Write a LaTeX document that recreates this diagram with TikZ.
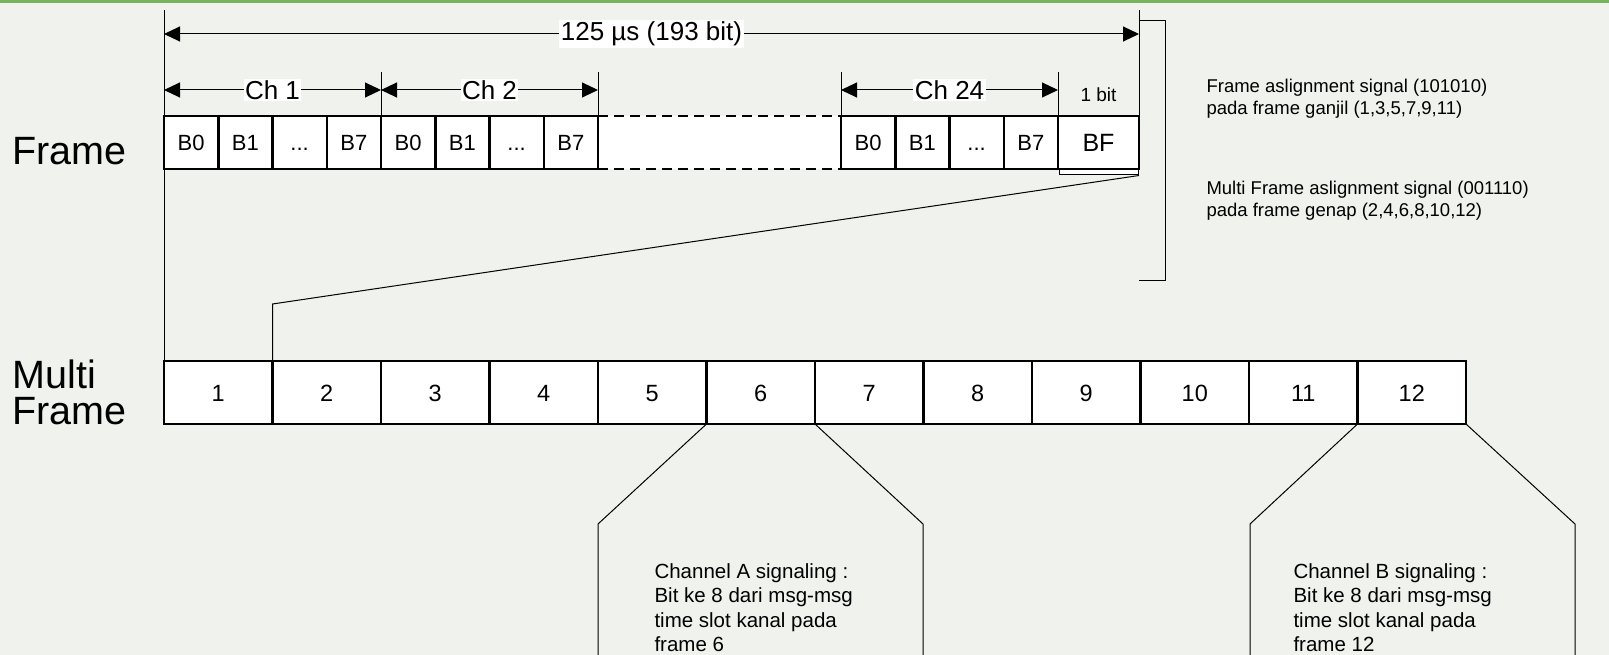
\documentclass[tikz,border=0pt]{standalone}
\usepackage{fontspec}
\setmainfont{Liberation Sans}
\usetikzlibrary{arrows.meta}
\definecolor{bgc}{RGB}{239,242,237}
\definecolor{topgreen}{RGB}{120,180,90}
\newcommand{\tdots}{...}
\begin{document}
\begin{tikzpicture}[x=1pt,y=-1pt,
  cell/.style={draw,line width=2.5pt,fill=white,inner sep=0pt,outer sep=0pt},
  fcell/.style={cell,minimum width=54.25pt,minimum height=53pt,font=\fontsize{22}{26}\selectfont,text height=16pt,text depth=0pt},
  mcell/.style={cell,minimum width=108.5pt,minimum height=63pt,font=\fontsize{23.5}{28}\selectfont,text height=17pt,text depth=0pt},
  thinline/.style={line width=1pt},
  dimarrow/.style={line width=1pt,{Triangle[length=16pt,width=15pt]}-{Triangle[length=16pt,width=15pt]}},
  lab/.style={fill=white,inner sep=1.5pt,font=\fontsize{26}{30}\selectfont},
  biglab/.style={font=\fontsize{39.5}{42}\selectfont,anchor=west,align=left},
  note/.style={font=\fontsize{18.5}{22}\selectfont,anchor=north west,align=left},
  chan/.style={font=\fontsize{20.5}{24.5}\selectfont,align=left,anchor=north west}
]
\useasboundingbox (0,0) rectangle (1609,655);
\fill[bgc] (0,0) rectangle (1609,655);
\fill[topgreen] (0,0) rectangle (1609,3);

% coordinates
\coordinate (top0) at (164,10);
\coordinate (top1) at (1139,10);
\coordinate (a0) at (164,34);
\coordinate (a1) at (1139,34);
\coordinate (c0) at (164,90);
\coordinate (c1) at (381,90);
\coordinate (c2) at (598,90);
\coordinate (c3) at (841,90);
\coordinate (c4) at (1058,90);
\coordinate (k1) at (381,72);
\coordinate (k2) at (598,72);
\coordinate (k3) at (841,72);
\coordinate (k4) at (1058,72);
\coordinate (k1b) at (381,116);
\coordinate (k2b) at (598,116);
\coordinate (k3b) at (841,116);
\coordinate (k4b) at (1058,116);
\coordinate (m0) at (164,361);
\coordinate (m1) at (272.5,361);
\coordinate (bend) at (272.5,304);
\coordinate (rb) at (1139,116);

% long mapping lines
\draw[thinline] (top0) -- (m0);
\draw[thinline] (top1) -- (rb);
\foreach \k in {1,2,3,4} \draw[thinline] (k\k) -- (k\k b);

% dimension arrows
\draw[dimarrow] (a0) -- node[lab] (t125) {125 µs (193 bit)} (a1);
\draw[dimarrow] (c0) -- node[lab] (tch1) {Ch 1} (c1);
\draw[dimarrow] (c1) -- node[lab] (tch2) {Ch 2} (c2);
\draw[dimarrow] (c3) -- node[lab] (tch24) {Ch 24} (c4);
\node[font=\fontsize{19}{22}\selectfont] (onebit) at (1098.5,95) {1 bit};

% bracket
\coordinate (br0) at (1139,21);
\coordinate (br1) at (1165,21);
\coordinate (br2) at (1165,280);
\coordinate (br3) at (1139,280);
\draw[thinline] (br0) -- (br1) -- (br2) -- (br3);

% dashed gap
\fill[white] (598,116) rectangle (841,169);
\draw[line width=2.5pt,dash pattern=on 10pt off 6pt] (598,116) -- (841,116);
\draw[line width=2.5pt,dash pattern=on 10pt off 6pt] (598,169) -- (841,169);

% BF highlight (behind the cell)
\node[draw,line width=1pt,fill=white,minimum width=79pt,minimum height=6pt,inner sep=0pt] (bfsel) at (1099,172) {};

% frame cells
\foreach \i/\t in {0/B0,1/B1,2/\tdots,3/B7,4/B0,5/B1,6/\tdots,7/B7}
  \node[fcell] (f\i) at ({164+54.25*\i+27.125},142.5) {\t};
\foreach \i/\t in {0/B0,1/B1,2/\tdots,3/B7}
  \node[fcell] (g\i) at ({841+54.25*\i+27.125},142.5) {\t};
\node[cell,minimum width=81pt,minimum height=53pt,font=\fontsize{25}{28}\selectfont,text height=18pt,text depth=0pt] (bf) at (1098.5,142.5) {BF};

% zoom line
\draw[thinline] (bfsel.south east) -- (bend) -- (m1);

% multi frame cells
\foreach \i in {1,...,12}
  \node[mcell] (m\i) at ({164+108.5*(\i-1)+54.25},392.5) {\i};

% channel A / B outlines
\coordinate (pa1) at (598,524);
\coordinate (pa2) at (923,524);
\coordinate (pa1b) at (598,660);
\coordinate (pa2b) at (923,660);
\draw[thinline] (m5.south east) -- (pa1) -- (pa1b);
\draw[thinline] (m6.south east) -- (pa2) -- (pa2b);
\coordinate (pb1) at (1250,524);
\coordinate (pb2) at (1575,524);
\coordinate (pb1b) at (1250,660);
\coordinate (pb2b) at (1575,660);
\draw[thinline] (m11.south east) -- (pb1) -- (pb1b);
\draw[thinline] (m12.south east) -- (pb2) -- (pb2b);

% labels
\node[biglab] (lframe) at (9,151) {Frame};
\node[biglab] (lmulti) at (9,392) {Multi\\[-6pt]Frame};

\node[note] (n1) at (1203,76) {Frame aslignment signal (101010)\\pada frame ganjil (1,3,5,7,9,11)};
\node[note] (n2) at (1203,178) {Multi Frame aslignment signal (001110)\\pada frame genap (2,4,6,8,10,12)};

\node[chan] (cha) at (651,560) {Channel A signaling :\\Bit ke 8 dari msg-msg\\time slot kanal pada\\frame 6};
\node[chan] (chb) at (1290,560) {Channel B signaling :\\Bit ke 8 dari msg-msg\\time slot kanal pada\\frame 12};
\end{tikzpicture}
\end{document}
